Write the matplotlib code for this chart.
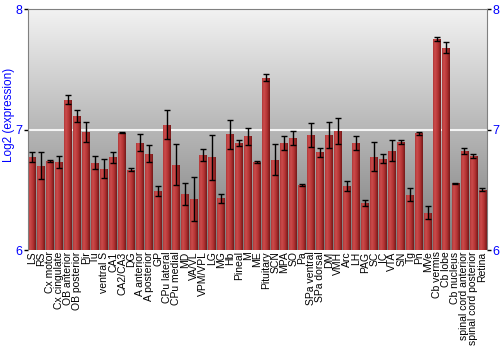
import numpy as np
import matplotlib
matplotlib.use("Agg")
import matplotlib.pyplot as plt
from matplotlib.colors import LinearSegmentedColormap

plt.rcParams['font.family'] = ['Liberation Sans', 'DejaVu Sans']

regions = ["LS", "RS", "Cx motor", "Cx cingulate", "OB anterior", "OB posterior",
           "Pir", "Tu", "ventral S", "CA1", "CA2/CA3", "DG", "A anterior",
           "A posterior", "GP", "CPu lateral", "CPu medial", "MD", "VA/VL",
           "VPM/VPL", "LG", "MG", "Hb", "Pineal", "M", "ME", "Pituitary", "SCN",
           "MPA", "SO", "Pa", "SPa ventral", "SPa dorsal", "DM", "VMH", "Arc",
           "LH", "PAG", "SC", "IC", "VTA", "SN", "Tg", "Pn", "MVe", "Cb vermis",
           "Cb lobe", "Cb nucleus", "spinal cord anterior", "spinal cord posterior",
           "Retina"]
expr = [6.77, 6.70, 6.74, 6.73, 7.25, 7.11, 6.98, 6.725, 6.675, 6.77, 6.975, 6.667,
        6.89, 6.80, 6.49, 7.04, 6.71, 6.467, 6.425, 6.79, 6.77, 6.43, 6.96, 6.89,
        6.945, 6.73, 7.43, 6.75, 6.89, 6.93, 6.54, 6.955, 6.81, 6.955, 6.99, 6.53,
        6.89, 6.39, 6.775, 6.76, 6.825, 6.897, 6.46, 6.97, 6.31, 7.755, 7.68, 6.555,
        6.82, 6.78, 6.50]
err = [0.04, 0.11, 0.01, 0.05, 0.036, 0.05, 0.085, 0.054, 0.08, 0.045, 0.005, 0.012,
       0.07, 0.07, 0.04, 0.12, 0.17, 0.09, 0.18, 0.05, 0.185, 0.036, 0.12, 0.025,
       0.07, 0.01, 0.03, 0.13, 0.057, 0.06, 0.005, 0.10, 0.04, 0.11, 0.11, 0.04,
       0.057, 0.026, 0.12, 0.04, 0.086, 0.02, 0.057, 0.0125, 0.055, 0.017, 0.045,
       0.003, 0.024, 0.017, 0.011]

fig = plt.figure(figsize=(5, 3.5), dpi=100)
ax = fig.add_axes([0.055, 0.2857, 0.919, 0.688])

x = np.arange(len(regions))
ax.set_xlim(-0.5, len(regions) - 0.5)
ax.set_ylim(6, 8)

# grey background gradient
bg = LinearSegmentedColormap.from_list("bg", ["#7b7b7b", "#f2f2f2"])
ax.imshow(np.linspace(0, 1, 256).reshape(-1, 1), cmap=bg, aspect="auto",
          extent=(-0.5, len(regions) - 0.5, 6, 8), origin="lower", zorder=0)
ax.axhline(7, color="#f4f4f4", lw=1.5, zorder=1)

barcm = LinearSegmentedColormap.from_list(
    "bar", [(0, "#b03838"), (0.25, "#cc4c4c"), (0.65, "#b23232"), (1, "#741818")])
grad = np.linspace(0, 1, 64).reshape(1, -1)
bars = ax.bar(x, np.array(expr) - 6, bottom=6, width=0.88, color="#b83535",
              zorder=2)
for b in bars:
    x0, w = b.get_x(), b.get_width()
    im = ax.imshow(grad, cmap=barcm, aspect="auto",
                   extent=(x0, x0 + w, 6, 6 + b.get_height()), zorder=2.5)
    im.set_clip_path(b)
ax.errorbar(x, expr, yerr=err, fmt="none", ecolor="black", elinewidth=1,
            capsize=2.5, capthick=1, zorder=3)
ax.set_xlim(-0.5, len(regions) - 0.5)
ax.set_ylim(6, 8)

ax.set_xticks(x)
ax.set_xticklabels(regions, rotation=90, fontsize=7.5)
ax.tick_params(axis="x", length=0, pad=1)
ax.set_yticks([6, 7, 8])
ax.tick_params(axis="y", labelcolor="blue", labelsize=9, length=3, width=1,
               color="black", right=True, labelright=True, pad=1)
ax.set_ylabel("Log2 (expression)", color="blue", fontsize=8.5)
ax.yaxis.set_label_coords(-0.027, 0.5625)

for s in ["left", "right", "top"]:
    ax.spines[s].set_color("#808080")
ax.spines["bottom"].set_visible(False)

fig.savefig("out.png", dpi=100)
